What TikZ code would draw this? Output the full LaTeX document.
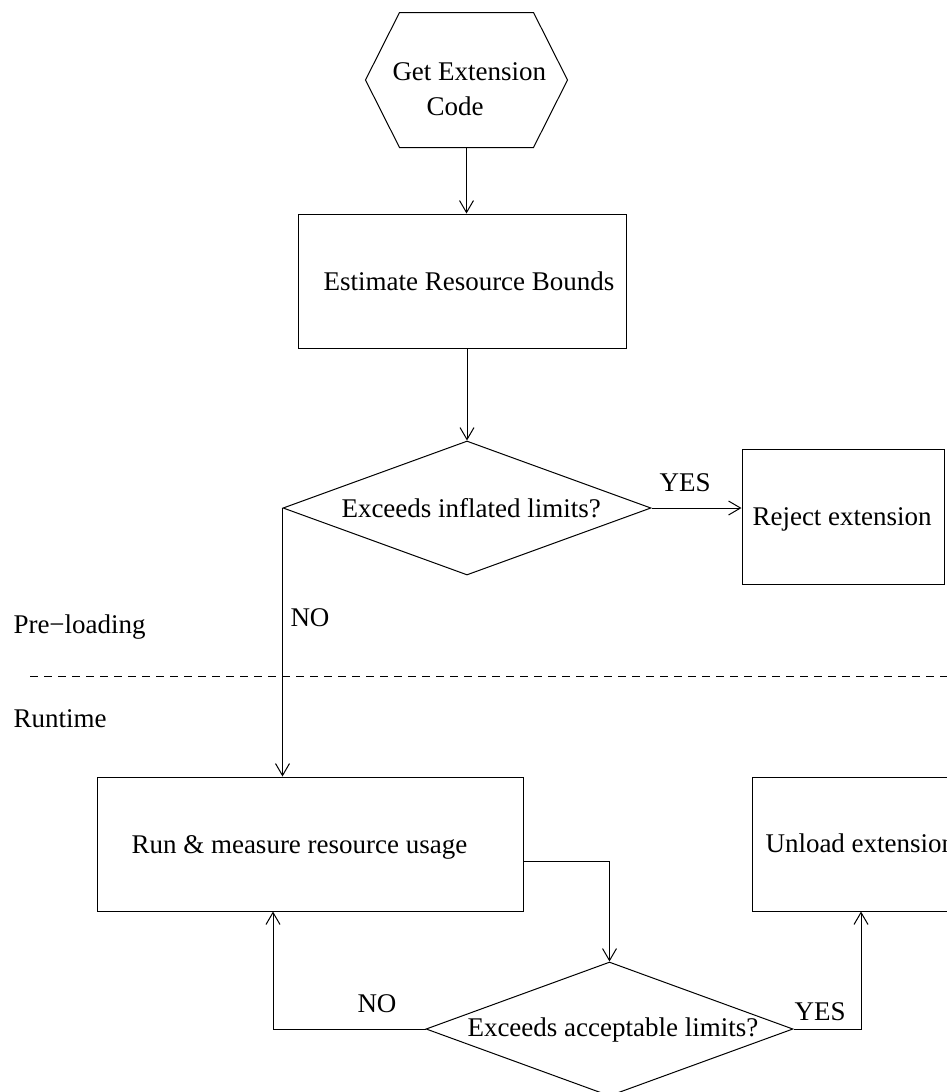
\documentclass[tikz,border=0pt]{standalone}
\usepackage{fontspec}
\setmainfont{Liberation Serif}
\usetikzlibrary{shapes.geometric,arrows.meta,calc}
\begin{document}
\begin{tikzpicture}[x=1pt,y=-1pt,
  every node/.style={font=\fontsize{27}{35}\selectfont},
  flowbox/.style={draw, rectangle, inner sep=0pt},
  decision/.style={draw, diamond, inner sep=0pt},
  txt/.style={anchor=base west, inner sep=0pt},
  flow/.style={-{Straight Barb[length=12pt,width=14pt]}},
  line width=1pt]
\path[use as bounding box, clip] (0,0) rectangle (947,1092);

% start: hexagon
\node[inner sep=0pt, minimum width=133pt, minimum height=134pt] (hex) at (466.5,80) {};
\draw (hex.north west) -- (hex.north east) -- ($(hex.east)+(34,0)$)
  -- (hex.south east) -- (hex.south west) -- ($(hex.west)+(-34,0)$) -- cycle;
\node[txt] (hexa) at (392,80) {Get Extension};
\node[txt] (hexb) at (426,115) {Code};

% pre-loading stage
\node[flowbox, minimum width=328pt, minimum height=134pt] (est) at (462,281) {};
\node[txt] (estt) at (323,290) {Estimate Resource Bounds};

\node[decision, minimum width=368pt, minimum height=134pt] (dec1) at (467,508) {};
\node[txt] (dec1t) at (341,517) {Exceeds inflated limits?};

\node[flowbox, minimum width=202pt, minimum height=135pt] (reject) at (843,516.5) {};
\node[txt] (rejectt) at (752,525) {Reject extension};

\node[txt] (yes1) at (659,491) {YES};
\node[txt] (no1) at (290,626) {NO};

% stage separator
\node[txt] (pre) at (13,633) {Pre−loading};
\draw[dash pattern=on 8pt off 6pt] (30,676) -- (947,676);
\node[txt] (rt) at (13,727) {Runtime};

% runtime stage
\node[flowbox, minimum width=426pt, minimum height=134pt] (run) at (310,844) {};
\node[txt] (runt) at (131,853) {Run \& measure resource usage};

\node[flowbox, minimum width=218pt, minimum height=134pt] (unload) at (861,844) {};
\node[txt] (unloadt) at (765,852) {Unload extension};

\node[decision, minimum width=367pt, minimum height=134pt] (dec2) at (609.5,1029) {};
\node[txt] (dec2t) at (467,1036) {Exceeds acceptable limits?};

\node[txt] (no2) at (357,1012) {NO};
\node[txt] (yes2) at (794,1020) {YES};

% connectors
\draw[flow] (hex.south) -- (hex.south |- est.north);
\draw[flow] (dec1.north |- est.south) -- (dec1.north);
\draw[flow] (dec1.east) -- (dec1.east -| reject.west);
\draw[flow] (dec1.west) -- (dec1.west |- run.north);
\draw[flow] ([yshift=-17pt]run.east) -| (dec2.north);
\draw[flow] (dec2.west) -| ([xshift=-37pt]run.south);
\draw[flow] (dec2.east) -| (unload.south);
\end{tikzpicture}
\end{document}
